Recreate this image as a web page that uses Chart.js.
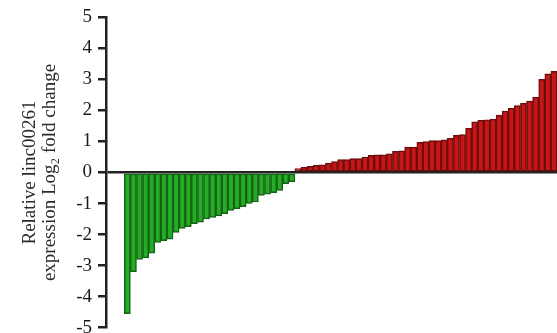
<!DOCTYPE html>
<html>
<head>
<meta charset="utf-8">
<script src="https://cdn.jsdelivr.net/npm/chart.js@4"></script>
<style>
  html, body { margin: 0; padding: 0; background: #fff; overflow: hidden; }
  #wrap { position: relative; width: 557px; height: 345px; }
</style>
</head>
<body>
<div id="wrap"><canvas id="chart"></canvas></div>
<script>
// samples with reduced expression (green), sorted
const downValues = [-4.55, -3.2, -2.8, -2.75, -2.6, -2.25, -2.2, -2.15, -1.93, -1.8,
  -1.75, -1.65, -1.6, -1.5, -1.45, -1.4, -1.33, -1.22, -1.17, -1.1,
  -1.0, -0.95, -0.74, -0.7, -0.65, -0.58, -0.36, -0.3];
// samples with increased expression (red), sorted
const upValues = [0.13, 0.17, 0.2, 0.23, 0.25, 0.3, 0.35, 0.42, 0.42, 0.45,
  0.45, 0.5, 0.55, 0.57, 0.57, 0.6, 0.68, 0.7, 0.82, 0.82,
  0.97, 1.0, 1.03, 1.03, 1.05, 1.1, 1.2, 1.22, 1.42, 1.63,
  1.68, 1.7, 1.72, 1.85, 1.98, 2.07, 2.16, 2.23, 2.3, 2.43,
  3.0, 3.18, 3.26];
const yTicks = [-5, -4, -3, -2, -1, 0, 1, 2, 3, 4, 5];
const leadGap = 3; // empty slots between axis and first bar

const values = Array(leadGap).fill(null).concat(downValues, upValues);
const labels = values.map((_, i) => 'S' + i);

const serif = '"Liberation Serif", "Times New Roman", serif';

new Chart(document.getElementById('chart'), {
  type: 'bar',
  data: {
    labels: labels,
    datasets: [{
      data: values,
      backgroundColor: values.map(v => v < 0 ? '#22ad22' : '#c81616'),
      borderColor: values.map(v => v < 0 ? '#176117' : '#6e0d0d'),
      borderWidth: 1.5,
      borderSkipped: false,
      barPercentage: 1,
      categoryPercentage: 1
    }]
  },
  options: {
    responsive: true,
    maintainAspectRatio: false,
    animation: false,
    events: [],
    layout: { padding: { top: 6, right: 0, bottom: 0, left: 0 } },
    plugins: { legend: { display: false }, tooltip: { enabled: false } },
    scales: {
      x: { display: false },
      y: {
        min: -5,
        max: 5,
        afterBuildTicks: scale => { scale.ticks = yTicks.map(v => ({ value: v })); },
        afterFit: scale => { scale.width = 106; },
        ticks: {
          color: '#1a1a1a',
          padding: 6,
          font: { family: serif, size: 19 }
        },
        grid: {
          drawOnChartArea: true,
          color: ctx => ctx.tick && ctx.tick.value === 0 ? '#222' : 'rgba(0,0,0,0)',
          lineWidth: 2.5,
          tickColor: '#222',
          tickLength: 8,
          tickWidth: 2.5
        },
        border: { color: '#222', width: 2.5 },
        title: {
          display: true,
          text: ['Relative linc00261', 'expression Log\u2082 fold change'],
          color: '#2a2a2a',
          font: { family: serif, size: 19, lineHeight: 1.05 },
          padding: { top: 20, bottom: 0 }
        }
      }
    }
  }
});
</script>
</body>
</html>
